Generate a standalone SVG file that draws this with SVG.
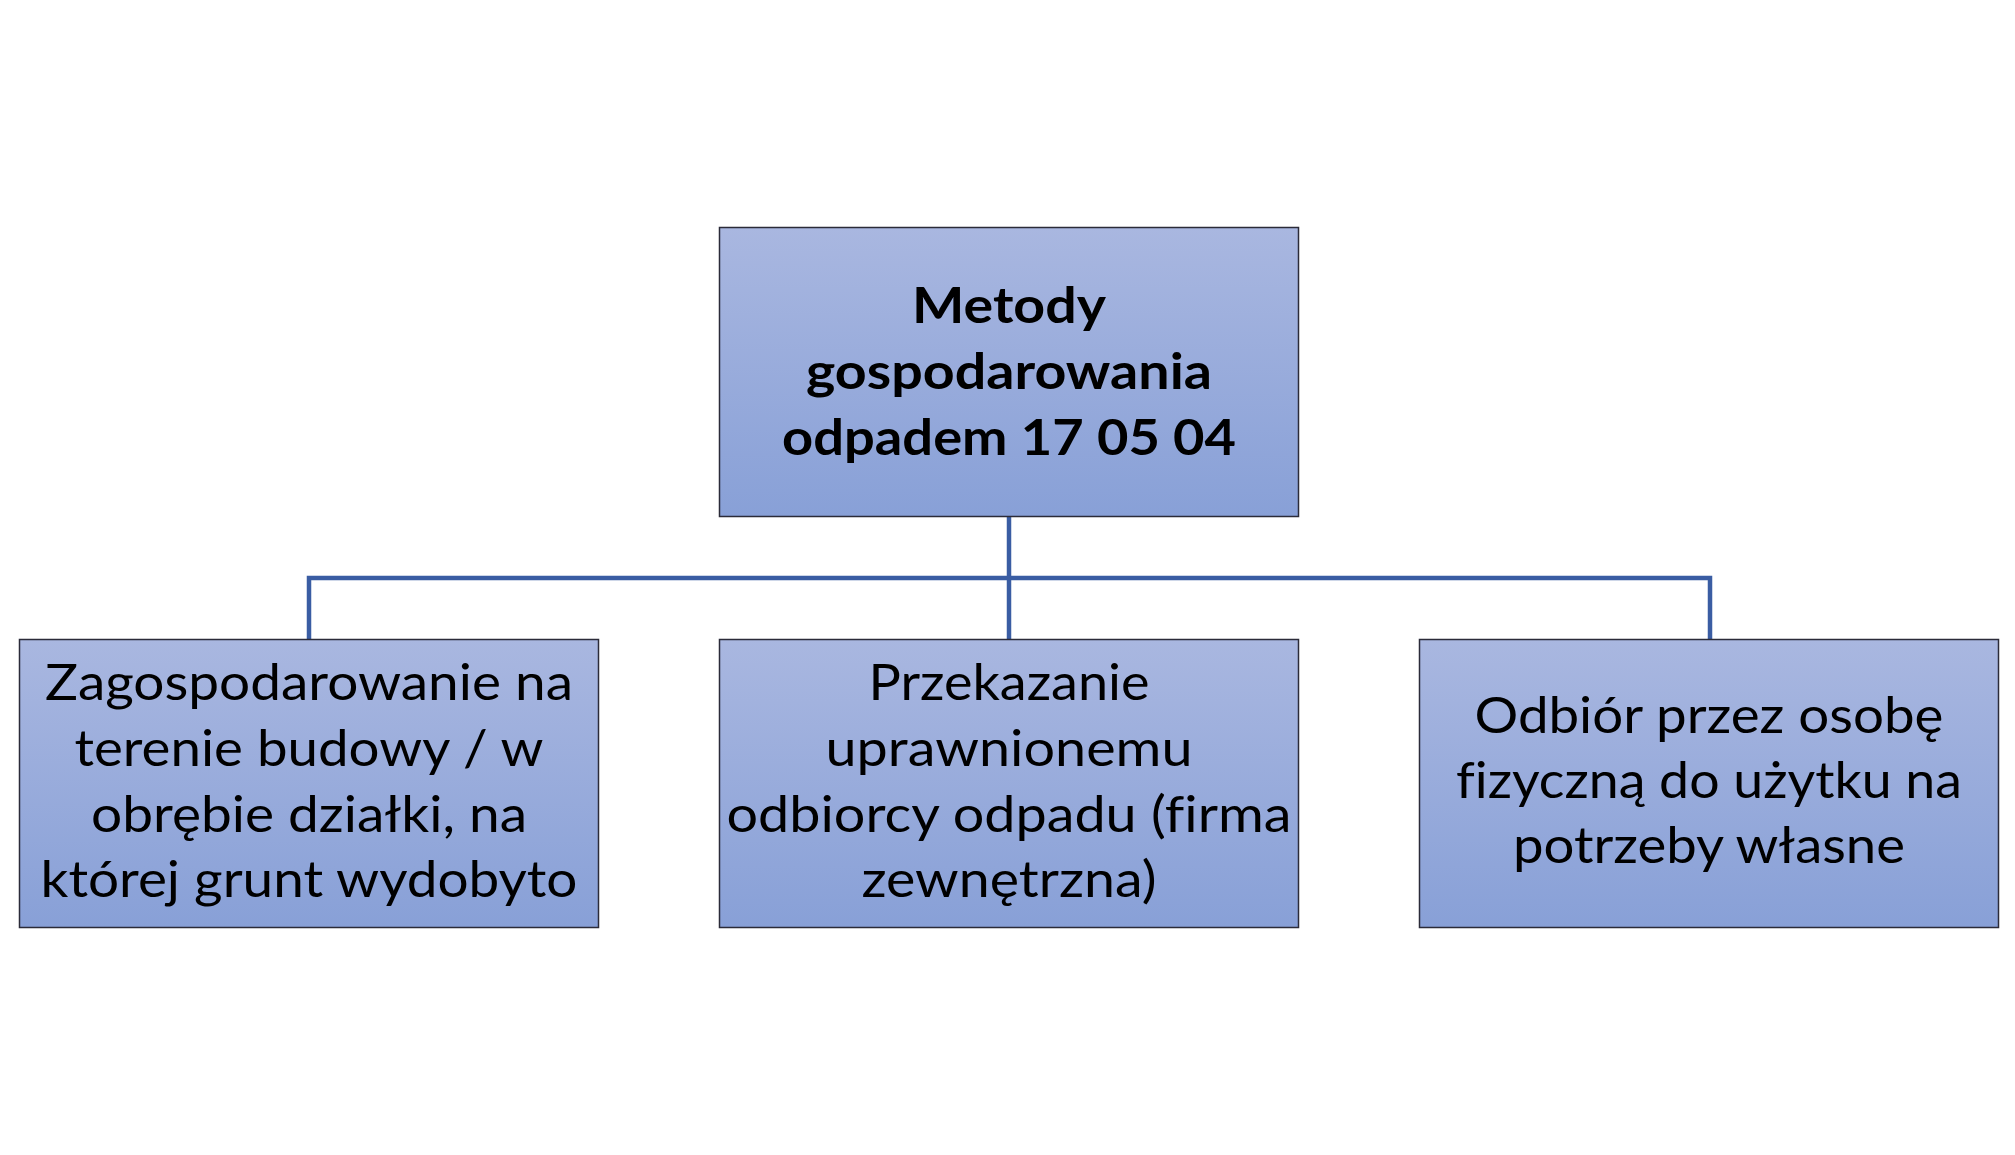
<svg xmlns="http://www.w3.org/2000/svg" width="2015" height="1155" viewBox="0 0 2015 1155">
<defs>
<linearGradient id="g" x1="0" y1="0" x2="0" y2="1">
<stop offset="0" stop-color="#A9B7E0"/>
<stop offset="1" stop-color="#88A0D7"/>
</linearGradient>
</defs>
<style>
.box{fill:url(#g);stroke:#2B2B38;stroke-width:1.5}
.t{font-family:Lato,"Open Sans","Liberation Sans",sans-serif;font-size:50px;fill:#000;text-anchor:middle;font-variant-ligatures:none}
.b{font-weight:bold}
.c{fill:none;stroke:#3A5DA3;stroke-width:4.5}
</style>
<rect width="2015" height="1155" fill="#fff"/>
<g id="connectors">
<path class="c" d="M1009 516 V639"/>
<path class="c" d="M309 639 V578 H1710 V639"/>
</g>
<g id="root">
<rect class="box" x="719.5" y="227.5" width="579" height="289"/>
<text class="t b" x="1009" y="323" textLength="194" lengthAdjust="spacingAndGlyphs">Metody</text>
<text class="t b" x="1009" y="389" textLength="406" lengthAdjust="spacingAndGlyphs">gospodarowania</text>
<text class="t b" x="1009" y="455" textLength="454" lengthAdjust="spacingAndGlyphs">odpadem 17 05 04</text>
</g>
<g id="left">
<rect class="box" x="19.5" y="639.5" width="579" height="288"/>
<text class="t" x="309" y="700" textLength="528" lengthAdjust="spacingAndGlyphs">Zagospodarowanie na</text>
<text class="t" x="309" y="766" textLength="469" lengthAdjust="spacingAndGlyphs">terenie budowy / w</text>
<text class="t" x="309" y="832" textLength="436" lengthAdjust="spacingAndGlyphs">obrębie działki, na</text>
<text class="t" x="309" y="897" textLength="537" lengthAdjust="spacingAndGlyphs">której grunt wydobyto</text>
</g>
<g id="middle">
<rect class="box" x="719.5" y="639.5" width="579" height="288"/>
<text class="t" x="1009" y="700" textLength="281" lengthAdjust="spacingAndGlyphs">Przekazanie</text>
<text class="t" x="1009" y="766" textLength="367" lengthAdjust="spacingAndGlyphs">uprawnionemu</text>
<text class="t" x="1009" y="832" textLength="565" lengthAdjust="spacingAndGlyphs">odbiorcy odpadu (firma</text>
<text class="t" x="1009" y="897" textLength="295" lengthAdjust="spacingAndGlyphs">zewnętrzna)</text>
</g>
<g id="right">
<rect class="box" x="1419.5" y="639.5" width="579" height="288"/>
<text class="t" x="1709" y="733" textLength="469" lengthAdjust="spacingAndGlyphs">Odbiór przez osobę</text>
<text class="t" x="1709" y="798" textLength="506" lengthAdjust="spacingAndGlyphs">fizyczną do użytku na</text>
<text class="t" x="1709" y="863" textLength="392" lengthAdjust="spacingAndGlyphs">potrzeby własne</text>
</g>
</svg>
